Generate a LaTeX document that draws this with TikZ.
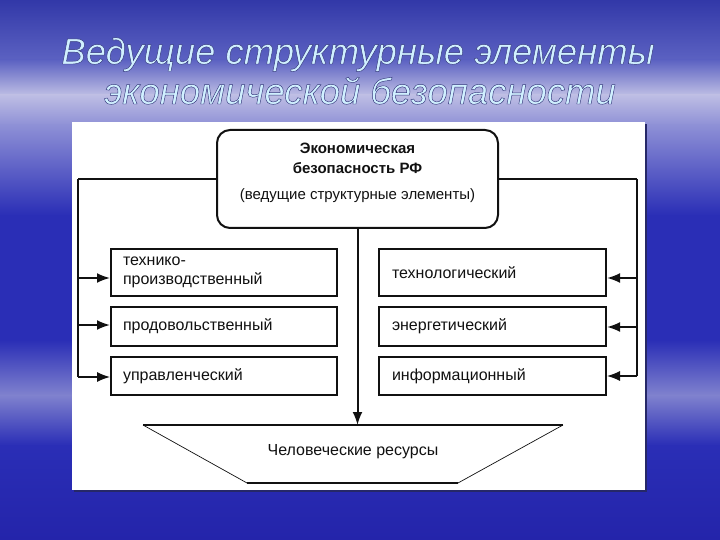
\documentclass[tikz,border=0pt]{standalone}
\usepackage{fontspec}
\setmainfont{Liberation Sans}
\usetikzlibrary{arrows.meta,calc}
\definecolor{bgTop}{HTML}{3238A8}
\definecolor{bgUp}{HTML}{5C62C2}
\definecolor{bgLight}{HTML}{BEBEE4}
\definecolor{bgStreak}{HTML}{8E90D6}
\definecolor{bgBlue}{HTML}{2A2EB6}
\definecolor{bgLow}{HTML}{8082CE}
\definecolor{bgBot}{HTML}{2424AA}
\definecolor{titleC}{HTML}{D0F0FF}
\definecolor{shadowC}{HTML}{262868}
\definecolor{inkC}{HTML}{111111}
\newcommand{\outlined}[1]{\special{pdf:literal direct 0.2 0.21 0.48 RG 0.45 w 2 Tr}#1\special{pdf:literal direct 0 Tr}}
\tikzset{
  titletext/.style={font=\fontsize{36.5}{40}\selectfont\itshape, text=titleC, inner sep=0pt},
  ebox/.style={draw=inkC, line width=2pt, fill=white, inner xsep=12pt, inner ysep=0pt,
    align=left, text=inkC, font=\fontsize{16}{19}\selectfont},
  conn/.style={draw=inkC, line width=2pt},
  thin/.style={draw=inkC, line width=1.3pt},
  arr/.style={draw=inkC, line width=2pt, -{Latex[length=13pt,width=10pt]}},
}
\begin{document}
\begin{tikzpicture}[x=1pt,y=-1pt]
\useasboundingbox (0,0) rectangle (720,540);
% background
\shade[top color=bgTop, bottom color=bgUp] (0,0) rectangle (720,60.5);
\shade[top color=bgUp, bottom color=bgLight] (0,60) rectangle (720,95.5);
\shade[top color=bgLight, bottom color=bgStreak] (0,95) rectangle (720,125.5);
\shade[top color=bgStreak, bottom color=bgBlue] (0,125) rectangle (720,215.5);
\fill[bgBlue] (0,215) rectangle (720,340.5);
\shade[top color=bgBlue, bottom color=bgLow] (0,340) rectangle (720,395.5);
\shade[top color=bgLow, bottom color=bgBlue] (0,395) rectangle (720,445.5);
\shade[top color=bgBlue, bottom color=bgBot] (0,445) rectangle (720,540);
% title
\node[titletext, anchor=base] (t1) at (358,64) {\outlined{Ведущие структурные элементы}};
\node[titletext, anchor=base] (t2) at (360,104) {\outlined{экономической безопасности}};
% panel
\fill[shadowC] (74,124) rectangle (647,492);
\fill[white] (72,122) rectangle (645,490);
% central box
\node[draw=inkC, line width=2pt, rounded corners=13pt, fill=white,
  minimum width=281pt, minimum height=98pt, inner sep=0pt] (cb) at (357.5,179) {};
\node[align=center, text=inkC, inner sep=0pt, font=\fontsize{15}{20}\selectfont] (cbt) at (357.5,173)
  {\textbf{Экономическая}\\\textbf{безопасность РФ}\\[6pt](ведущие структурные элементы)};
% left boxes
\node[ebox, text width=202pt, minimum height=47pt] (l1) at (224,272.5) {технико-\\производственный};
\node[ebox, text width=202pt, minimum height=39pt] (l2) at (224,326.5) {продовольственный};
\node[ebox, text width=202pt, minimum height=38pt] (l3) at (224,376) {управленческий};
% right boxes
\node[ebox, inner xsep=13pt, text width=201pt, minimum height=47pt] (r1) at (492.5,272.5) {технологический};
\node[ebox, inner xsep=13pt, text width=201pt, minimum height=39pt] (r2) at (492.5,326.5) {энергетический};
\node[ebox, inner xsep=13pt, text width=201pt, minimum height=38pt] (r3) at (492.5,376) {информационный};
% trapezoid (human resources)
\coordinate (ta) at (143,425);
\coordinate (tb) at (563,425);
\coordinate (tc) at (458,483);
\coordinate (td) at (247,483);
\draw[conn] (ta) -- (tb);
\draw[conn] (td) -- (tc);
\draw[draw=inkC, line width=0.7pt] (ta) -- (td);
\draw[draw=inkC, line width=0.7pt] (tb) -- (tc);
\node[text=inkC, inner sep=0pt, font=\fontsize{16}{19}\selectfont, anchor=base] (hr) at (353,455) {Человеческие ресурсы};
% connectors
\coordinate (lc) at (78,179);
\coordinate (rc) at (637,179);
\coordinate (tt) at (357.5,425);
\draw[conn] (cb.west) -- (lc);
\draw[thin] (lc) -- (78,377);
\draw[arr] (78,278) -- (l1.west |- 0,278);
\draw[arr] (78,325) -- (l2.west |- 0,325);
\draw[arr, line width=1.3pt] (78,377) -- (l3.west |- 0,377);
\draw[conn] (cb.east) -- (rc);
\draw[thin] (rc) -- (637,376);
\draw[arr] (637,278) -- (r1.east |- 0,278);
\draw[arr] (637,327) -- (r2.east |- 0,327);
\draw[arr, line width=1.3pt] (637,376) -- (r3.east |- 0,376);
\draw[arr] (cb.south) -- (tt);
\end{tikzpicture}
\end{document}
